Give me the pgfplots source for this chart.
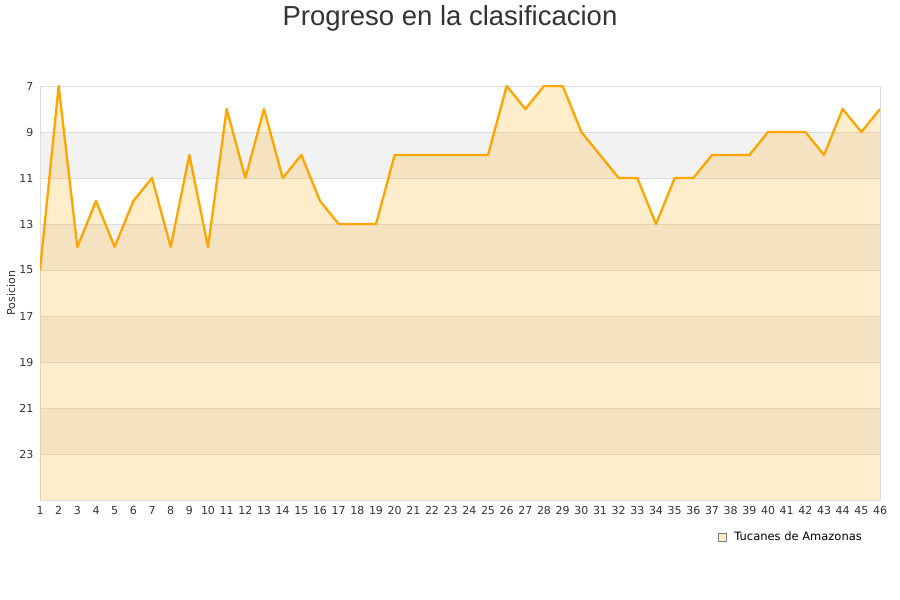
\documentclass[border=0pt]{standalone}
\usepackage{pgfplots}
\pgfplotsset{compat=1.18}
\usepgfplotslibrary{fillbetween}
\usepackage{fontspec}
\setmainfont{DejaVu Sans}
\newfontfamily\titlefont{Liberation Sans}
\definecolor{linec}{HTML}{FFA500}
\definecolor{bandc}{HTML}{F2F2F2}
\definecolor{gridc}{HTML}{DDDDDD}
\definecolor{textc}{HTML}{333333}
\begin{document}
\begin{tikzpicture}
\begin{axis}[
    set layers=standard,
    at={(40pt,100pt)}, anchor=south west,
    scale only axis, width=840pt, height=414pt,
    xmin=1, xmax=46, ymin=7, ymax=25,
    y dir=reverse,
    xtick={1,...,46}, ytick={7,9,...,23},
    ymajorgrids, major grid style={gridc, line width=0.8pt},
    axis line style={gridc, line width=0.8pt},
    major tick length=0pt,
    tick label style={textc, font=\fontsize{11}{13}\selectfont},
    /pgf/number format/assume math mode=true,
    xticklabel style={yshift=-3pt},
    yticklabel style={xshift=-3pt},
    legend style={at={(0.894,-0.089)}, anchor=center, draw=none, fill=none,
        font=\fontsize{11.5}{13}\selectfont, legend cell align=left},
]
\begin{pgfonlayer}{axis background}
  \fill[bandc] (axis cs:1,9) rectangle (axis cs:46,11);
  \fill[bandc] (axis cs:1,13) rectangle (axis cs:46,15);
  \fill[bandc] (axis cs:1,17) rectangle (axis cs:46,19);
  \fill[bandc] (axis cs:1,21) rectangle (axis cs:46,23);
\end{pgfonlayer}
\addplot[name path=pos, draw=linec, line width=2.3pt, line join=round, forget plot] coordinates {
(1,15) (2,7) (3,14) (4,12) (5,14) (6,12) (7,11) (8,14) (9,10) (10,14)
(11,8) (12,11) (13,8) (14,11) (15,10) (16,12) (17,13) (18,13) (19,13) (20,10)
(21,10) (22,10) (23,10) (24,10) (25,10) (26,7) (27,8) (28,7) (29,7) (30,9)
(31,10) (32,11) (33,11) (34,13) (35,11) (36,11) (37,10) (38,10) (39,10) (40,9)
(41,9) (42,9) (43,10) (44,8) (45,9) (46,8)
};
\path[name path=bottom] (axis cs:1,25) -- (axis cs:46,25);
\addplot[fill=linec, fill opacity=0.2, draw=none,
    legend image code/.code={\draw[fill=linec!22, fill opacity=1, draw=gray, line width=0.6pt] (0pt,-4pt) rectangle (8pt,4pt); \path (14pt,0pt);}]
    fill between[of=pos and bottom];
\addlegendentry{Tucanes de Amazonas}
\end{axis}
\node[textc, font=\titlefont\fontsize{27.5}{32}\selectfont] at (450pt,582pt) {Progreso en la clasificacion};
\node[textc, rotate=90, font=\fontsize{11}{13}\selectfont] at (11pt,307pt) {Posicion};
\pgfresetboundingbox
\useasboundingbox (0pt,0pt) rectangle (900pt,600pt);
\end{tikzpicture}
\end{document}
